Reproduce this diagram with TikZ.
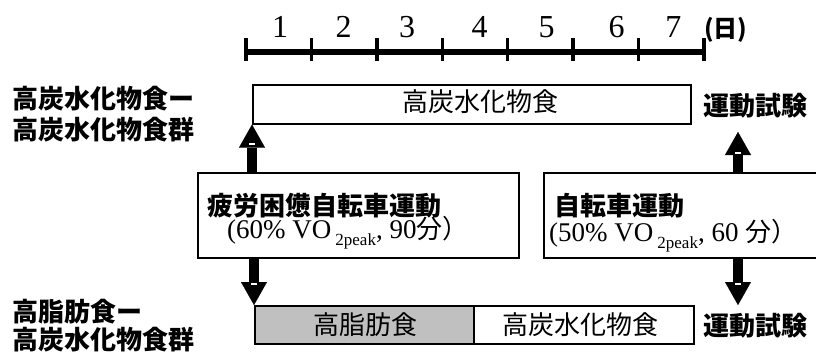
\documentclass[tikz,border=0pt]{standalone}
\usepackage{fontspec}
\setmainfont{Liberation Serif}
\newfontfamily\jp{Noto Sans CJK JP}
\usetikzlibrary{arrows.meta}
\definecolor{fatgray}{RGB}{192,192,192}
\begin{document}
\begin{tikzpicture}[x=1pt,y=-1pt,
  box/.style={draw=black, line width=1.6pt, inner sep=0pt, anchor=north west},
  lab/.style={inner sep=0pt, font=\jp\bfseries\fontsize{26}{30}\selectfont},
  boxtxt/.style={inner sep=0pt, font=\jp\fontsize{26}{30}\selectfont},
  num/.style={inner sep=0pt, anchor=base, font=\fontsize{32}{36}\selectfont},
  blockarrow/.style={line width=10pt, -{Triangle[width=26pt,length=23pt,line width=0.01pt]}},
  notch/.style={fill=white, draw=none, minimum width=6pt, minimum height=2.5pt, inner sep=0pt},
  mixed/.style={inner sep=0pt, anchor=base west, font=\fontsize{27}{30}\selectfont}
]
\useasboundingbox (0,0) rectangle (816,356);

% timeline
\draw[line width=6pt] (246,52) -- (704,52);
\foreach \x in {246,311.4,376.9,442.3,507.7,573.1,638.6,704}
  \draw[line width=3.5pt] (\x,38) -- (\x,61);
\node[num] (d1) at (280,37) {1};
\node[num] (d2) at (343.7,37) {2};
\node[num] (d3) at (407,37) {3};
\node[num] (d4) at (479.7,37) {4};
\node[num] (d5) at (546.7,37) {5};
\node[num] (d6) at (616.7,37) {6};
\node[num] (d7) at (673.3,37) {7};
\node[inner sep=0pt, anchor=west, font=\jp\bfseries\fontsize{24}{26}\selectfont] (unit) at (704,30) {(日)};

% group labels
\node[lab, anchor=west] (g1a) at (12,99) {高炭水化物食ー};
\node[lab, anchor=west] (g1b) at (12,130) {高炭水化物食群};
\node[lab, anchor=west] (g2a) at (12,312) {高脂肪食ー};
\node[lab, anchor=west] (g2b) at (12,340) {高炭水化物食群};

% boxes
\node[box, minimum width=438pt, minimum height=39pt] (hc1) at (252,84) {};
\node[box, minimum width=321pt, minimum height=85pt] (ex1) at (197,172) {};
\node[box, minimum width=285pt, minimum height=85pt] (ex2) at (543,172) {};
\node[box, fill=fatgray, minimum width=219pt, minimum height=38pt] (hf) at (254,305) {};
\node[box, minimum width=220pt, minimum height=38pt] (hc2) at (473,305) {};

% box texts
\node[boxtxt] (t1) at (480,102) {高炭水化物食};
\node[boxtxt] (t2) at (365,325) {高脂肪食};
\node[boxtxt] (t3) at (580,325) {高炭水化物食};
\node[lab] (test1) at (755,106) {運動試験};
\node[lab] (test2) at (755,326) {運動試験};

\node[lab, anchor=west] (e1a) at (207,205.5) {疲労困憊自転車運動};
\node[mixed] (e1b) at (227,238) {(60\% VO\hspace{4pt}\raisebox{-7pt}{\fontsize{17}{20}\selectfont 2peak}, 90{\jp\fontsize{26}{30}\selectfont 分）}};
\node[lab, anchor=west] (e2a) at (554,205.5) {自転車運動};
\node[mixed] (e2b) at (549,241.5) {(50\% VO\hspace{4pt}\raisebox{-7pt}{\fontsize{17}{20}\selectfont 2peak}, 60 {\jp\fontsize{26}{30}\selectfont 分）}};

% arrows
\coordinate (t1tip) at (738,132);
\coordinate (t2tip) at (738,305);
\draw[blockarrow] (ex1.north -| hc1.south west) -- (hc1.south west);
\draw[blockarrow] (ex1.south -| hf.north west) -- (hf.north west);
\draw[blockarrow] (ex2.north -| t1tip) -- (t1tip);
\draw[blockarrow] (ex2.south -| t2tip) -- (t2tip);
\node[notch] (n1) at (252,144) {};
\node[notch] (n2) at (254,284) {};
\node[notch] (n3) at (738,153) {};
\node[notch] (n4) at (738,284) {};
\end{tikzpicture}
\end{document}
